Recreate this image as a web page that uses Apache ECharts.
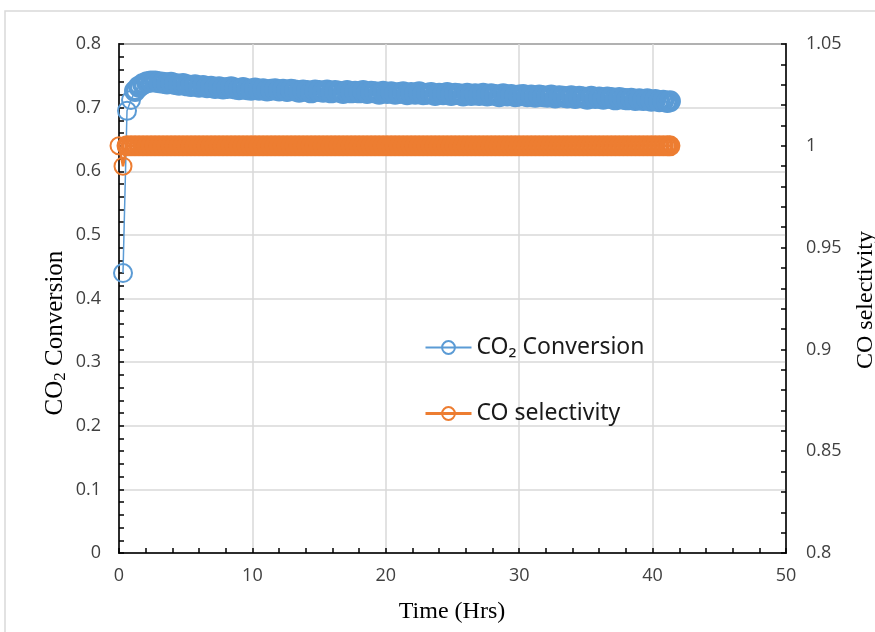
<!DOCTYPE html>
<html>
<head>
<meta charset="utf-8">
<script src="https://cdn.jsdelivr.net/npm/echarts@6/dist/echarts.min.js"></script>
<style>
html,body{margin:0;padding:0;background:#fff;}
#chart{width:875px;height:632px;}
</style>
</head>
<body>
<div id="chart"></div>
<script>
// Time (Hrs)
var times = [
0,0.3,0.6,0.9,1.2,1.5,1.8,2.1,2.4,2.7,
3,3.3,3.6,3.9,4.2,4.5,4.8,5.1,5.4,5.7,
6,6.3,6.6,6.9,7.2,7.5,7.8,8.1,8.4,8.7,
9,9.3,9.6,9.9,10.2,10.5,10.8,11.1,11.4,11.7,
12,12.3,12.6,12.9,13.2,13.5,13.8,14.1,14.4,14.7,
15,15.3,15.6,15.9,16.2,16.5,16.8,17.1,17.4,17.7,
18,18.3,18.6,18.9,19.2,19.5,19.8,20.1,20.4,20.7,
21,21.3,21.6,21.9,22.2,22.5,22.8,23.1,23.4,23.7,
24,24.3,24.6,24.9,25.2,25.5,25.8,26.1,26.4,26.7,
27,27.3,27.6,27.9,28.2,28.5,28.8,29.1,29.4,29.7,
30,30.3,30.6,30.9,31.2,31.5,31.8,32.1,32.4,32.7,
33,33.3,33.6,33.9,34.2,34.5,34.8,35.1,35.4,35.7,
36,36.3,36.6,36.9,37.2,37.5,37.8,38.1,38.4,38.7,
39,39.3,39.6,39.9,40.2,40.5,40.8,41.1,41.3
];
// CO2 conversion (left axis)
var co2Conversion = [
null,0.440,0.695,0.712,0.726,0.733,0.737,0.740,0.741,0.741,
0.740,0.739,0.738,0.739,0.737,0.736,0.737,0.735,0.734,0.735,
0.733,0.734,0.732,0.733,0.731,0.732,0.730,0.731,0.732,0.730,
0.729,0.731,0.729,0.728,0.730,0.728,0.729,0.727,0.728,0.729,
0.727,0.728,0.726,0.728,0.727,0.725,0.727,0.726,0.724,0.727,
0.726,0.725,0.727,0.724,0.726,0.725,0.723,0.726,0.724,0.725,
0.724,0.726,0.723,0.725,0.724,0.722,0.725,0.723,0.724,0.722,
0.723,0.724,0.721,0.723,0.722,0.724,0.721,0.722,0.723,0.720,
0.722,0.721,0.723,0.720,0.722,0.721,0.719,0.722,0.720,0.721,
0.720,0.722,0.719,0.721,0.720,0.718,0.721,0.719,0.720,0.718,
0.719,0.720,0.718,0.719,0.717,0.719,0.718,0.717,0.719,0.716,
0.718,0.717,0.716,0.718,0.715,0.717,0.716,0.714,0.717,0.715,
0.716,0.714,0.716,0.715,0.713,0.715,0.714,0.713,0.714,0.712,
0.713,0.712,0.713,0.711,0.712,0.710,0.711,0.709,0.710
];
// CO selectivity (right axis)
var coSelectivity = [
1,0.99,1,1,1,1,1,1,1,1,
1,1,1,1,1,1,1,1,1,1,
1,1,1,1,1,1,1,1,1,1,
1,1,1,1,1,1,1,1,1,1,
1,1,1,1,1,1,1,1,1,1,
1,1,1,1,1,1,1,1,1,1,
1,1,1,1,1,1,1,1,1,1,
1,1,1,1,1,1,1,1,1,1,
1,1,1,1,1,1,1,1,1,1,
1,1,1,1,1,1,1,1,1,1,
1,1,1,1,1,1,1,1,1,1,
1,1,1,1,1,1,1,1,1,1,
1,1,1,1,1,1,1,1,1,1,
1,1,1,1,1,1,1,1,1
];
var seriesNames = ['CO\u2082 Conversion', 'CO selectivity'];

var blue = '#5B9BD5', orange = '#ED7D31';
var labelFont = {fontFamily:'Open Sans', fontSize:18, color:'#404040'};
var gridColor = '#d9d9d9';

// isolated early points are drawn with a thin outline, the dense run with a thick one
function buildData(vals, thinCount) {
  return times.map(function (t, i) {
    var item = {value:[t, vals[i]]};
    if (i < thinCount) item.itemStyle = {borderWidth:2};
    return item;
  });
}

var chart = echarts.init(document.getElementById('chart'), null, {renderer:'canvas'});
chart.setOption({
  animation:false,
  backgroundColor:'#fff',
  grid:{left:119, right:89, top:44, bottom:79, show:true, borderColor:'#000', borderWidth:1.5, backgroundColor:'transparent'},
  legend:{
    orient:'vertical', left:419, top:331, itemGap:43, itemWidth:46, itemHeight:16,
    textStyle:{fontFamily:'Noto Sans', fontSize:23, color:'#1a1a1a'},
    data:[
      {name:seriesNames[0], itemStyle:{borderWidth:2}, lineStyle:{width:2}},
      {name:seriesNames[1], itemStyle:{borderWidth:2}, lineStyle:{width:3}}
    ]
  },
  xAxis:{
    type:'value', min:0, max:50, interval:10,
    axisLine:{show:true, lineStyle:{color:'#000', width:1.5}},
    axisTick:{show:true, inside:true, length:5, lineStyle:{color:'#000', width:1.5}},
    minorTick:{show:true, splitNumber:5, length:5, lineStyle:{color:'#000', width:1.5}},
    splitLine:{show:true, lineStyle:{color:gridColor, width:1.5}},
    axisLabel:Object.assign({margin:14}, labelFont)
  },
  yAxis:[{
    type:'value', min:0, max:0.8, interval:0.1, position:'left',
    axisLine:{show:true, lineStyle:{color:'#000', width:1.5}},
    axisTick:{show:true, inside:true, length:5, lineStyle:{color:'#000', width:1.5}},
    minorTick:{show:true, splitNumber:5, length:5, lineStyle:{color:'#000', width:1.5}},
    splitLine:{show:true, lineStyle:{color:gridColor, width:1.5}},
    axisLabel:Object.assign({margin:18}, labelFont)
  },{
    type:'value', min:0.8, max:1.05, interval:0.05, position:'right',
    axisLine:{show:true, lineStyle:{color:'#000', width:1.5}},
    axisTick:{show:true, inside:true, length:5, lineStyle:{color:'#000', width:1.5}},
    minorTick:{show:true, splitNumber:5, length:5, lineStyle:{color:'#000', width:1.5}},
    splitLine:{show:false},
    axisLabel:Object.assign({margin:20, formatter:function(v){return String(Math.round(v*100)/100);}}, labelFont)
  }],
  series:[{
    name:seriesNames[0], type:'line', yAxisIndex:0,
    data:buildData(co2Conversion, 4),
    symbol:'circle', symbolSize:18, showAllSymbol:true,
    lineStyle:{color:blue, width:1.5},
    itemStyle:{color:'rgba(255,255,255,0)', borderColor:blue, borderWidth:4},
    color:blue
  },{
    name:seriesNames[1], type:'line', yAxisIndex:1,
    data:buildData(coSelectivity, 2),
    symbol:'circle', symbolSize:17, showAllSymbol:true,
    lineStyle:{color:orange, width:2.5},
    itemStyle:{color:'rgba(255,255,255,0)', borderColor:orange, borderWidth:4},
    color:orange
  }],
  graphic:[
    {type:'rect', silent:true, z:-10, shape:{x:5, y:11, width:900, height:700}, style:{fill:'none', stroke:'#d9d9d9', lineWidth:1.5}},
    {type:'text', x:452, y:612, style:{text:'Time (Hrs)', font:'24px "Liberation Serif"', fill:'#000', textAlign:'center', textVerticalAlign:'middle'}},
    {type:'text', x:55, y:333, rotation:Math.PI/2, style:{
      text:'{a|CO}{s|2}{a| Conversion}', textAlign:'center', textVerticalAlign:'middle', fill:'#000',
      rich:{a:{fontFamily:'Liberation Serif', fontSize:25, lineHeight:28, verticalAlign:'middle'},
            s:{fontFamily:'Liberation Serif', fontSize:17, lineHeight:28, verticalAlign:'bottom'}}}},
    {type:'text', x:866, y:300, rotation:Math.PI/2, style:{text:'CO selectivity', font:'24px "Liberation Serif"', fill:'#000', textAlign:'center', textVerticalAlign:'middle'}}
  ]
});
</script>
</body>
</html>
